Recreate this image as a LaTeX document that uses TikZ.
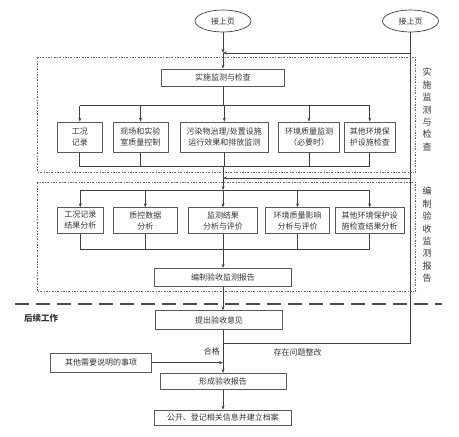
\documentclass[tikz,border=0pt]{standalone}
\usepackage{fontspec}
\setmainfont{Noto Sans CJK SC}
\usetikzlibrary{shapes.geometric,arrows.meta}

\begin{document}
\begin{tikzpicture}[x=1pt,y=-1pt,
  every node/.style={font=\fontsize{8}{11}\selectfont,text=black!80},
  line/.style={draw=black!75,line width=0.7pt},
  arr/.style={line,-{Stealth[length=4pt,width=3pt]}},
  box/.style={draw=black!65,line width=0.7pt,rectangle,inner sep=0pt,align=center},
  start/.style={draw=black!75,line width=0.7pt,ellipse,inner sep=0pt,minimum width=56,minimum height=22},
  frame/.style={draw=black!60,line width=0.5pt,dash pattern=on 2pt off 1.5pt on 0.6pt off 1.5pt},
  sep/.style={draw=black!70,line width=2pt,dash pattern=on 14pt off 7pt},
  vlabel/.style={align=center,font=\fontsize{9}{12.4}\selectfont}]
\useasboundingbox (0,0) rectangle (459,437);

\coordinate (j1) at (223,53);
\coordinate (b1) at (223,105.7);
\coordinate (c1) at (223,166.7);
\coordinate (j2) at (223,178);
\coordinate (b2) at (223,190);
\coordinate (c2) at (223,249);
\coordinate (j3) at (223,343.3);
\coordinate (j4) at (223,362.7);

\draw[frame] (37.7,57) rectangle (415.7,172.3);
\draw[frame] (37.7,182.3) rectangle (415.7,291.7);
\draw[sep] (15,304) -- (441.7,304);

\node[start] (e1) at (223,21) {接上页};
\node[start] (e2) at (410.5,21) {接上页};
\node[box,minimum width=123.3,minimum height=17] (top) at (223,77.5) {实施监测与检查};

\foreach \nm/\cx/\w/\txt in {r1a/79.8/45/{工况\\记录},r1b/140.5/55/{现场和实验\\室质量控制},
  r1c/224.3/88.7/{污染物治理/处置设施\\运行效果和排放监测},r1d/309/60.6/{环境质量监测\\（必要时）},
  r1e/369.8/51/{其他环境保\\护设施检查}}{
  \node[box,minimum width=\w,minimum height=30] (\nm) at (\cx,137) {\txt};
  \draw[arr] (\nm.north |- b1) -- (\nm.north);
  \draw[line] (\nm.south) -- (\nm.south |- c1);
}
\foreach \nm/\cx/\w/\txt in {r2a/80.3/46/{工况记录\\结果分析},r2b/145.3/64/{质控数据\\分析},
  r2c/223/68.6/{监测结果\\分析与评价},r2d/297.5/63.6/{环境质量影响\\分析与评价},
  r2e/369.7/69.3/{其他环境保护设\\施检查结果分析}}{
  \node[box,minimum width=\w,minimum height=25.6] (\nm) at (\cx,220.5) {\txt};
  \draw[arr] (\nm.north |- b2) -- (\nm.north);
  \draw[line] (\nm.south) -- (\nm.south |- c2);
}

\node[box,minimum width=136.7,minimum height=18.4] (rep) at (223,277.5) {编制验收监测报告};
\node[box,minimum width=126.6,minimum height=18.6] (opin) at (219,320) {提出验收意见};
\node[box,minimum width=101,minimum height=18.3] (other) at (101.2,362.7) {其他需要说明的事项};
\node[box,minimum width=126.3,minimum height=16] (form) at (223,381.3) {形成验收报告};
\node[box,minimum width=137.4,minimum height=15.7] (pub) at (223,417.8) {公开、登记相关信息并建立档案};

\node (ok) at (212,351.7) {合格};
\node (fix) at (297.5,352) {存在问题整改};
\node[font=\fontsize{8.5}{11}\bfseries] (later) at (41,318.3) {后续工作};
\node[vlabel] (lab1) at (427,109.5) {实\\施\\监\\测\\与\\检\\查};
\node[vlabel] (lab2) at (427,234.8) {编\\制\\验\\收\\监\\测\\报\\告};

\draw[arr] (e1) -- (j1);
\draw[arr] (j1) -- (top);
\draw[line] (e2) -- (e2 |- j3) -- (j3);
\draw[arr] (e2 |- j1) -- (j1);
\draw[arr] (e2 |- j2) -- (j2);
\draw[line] (top) -- (b1);
\draw[line] (r1a.north |- b1) -- (r1e.north |- b1);
\draw[line] (r1a.south |- c1) -- (r1e.south |- c1);
\draw[arr] (c1) -- (b2);
\draw[line] (r2a.north |- b2) -- (r2e.north |- b2);
\draw[line] (r2a.south |- c2) -- (r2e.south |- c2);
\draw[arr] (c2) -- (rep);
\draw[arr] (rep) -- (opin.north -| j1);
\draw[arr] (opin.south -| j1) -- (form);
\draw[arr] (other.east) -- (j4);
\draw[arr] (form) -- (pub);
\end{tikzpicture}
\end{document}
